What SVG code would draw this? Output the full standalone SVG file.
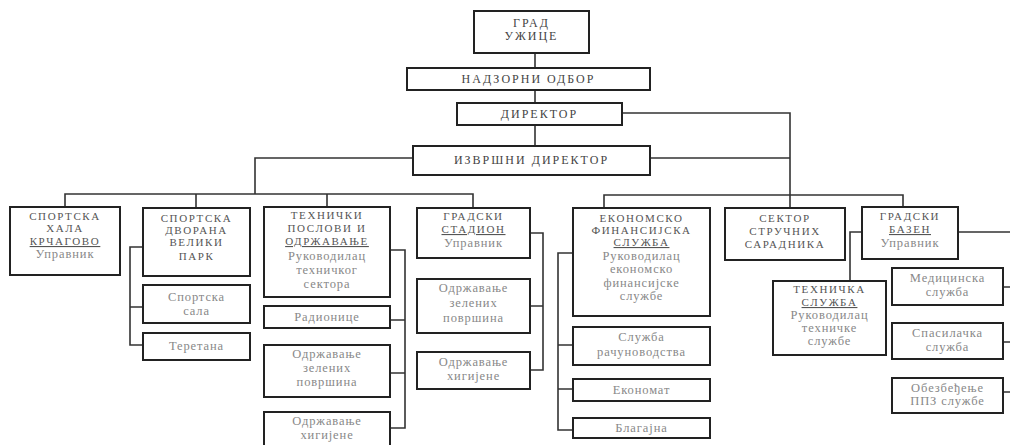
<svg xmlns="http://www.w3.org/2000/svg" width="1010" height="445" viewBox="0 0 1010 445">
<style>
rect{fill:#fff;stroke:#222;stroke-width:2}
text{font-family:"Liberation Serif","Times New Roman",serif;text-anchor:middle}
.h{font-size:12px;letter-spacing:2px;fill:#444}
.t{font-size:11px;letter-spacing:1.6px;fill:#555}
.s{font-size:12.5px;letter-spacing:0.9px;fill:#888}
.u{text-decoration:underline}
#conn path{fill:none;stroke:#333;stroke-width:1.6}
</style>
<rect x="0" y="0" width="1010" height="445" style="fill:#fff;stroke:none"/>
<g id="conn">
<path d="M535,53V68M535,90V103M535,125V146"/>
<path d="M622,113H790V208M650,158H790"/>
<path d="M413,158H255V194M65,207V194H473V208M196,194V208M327,194V207"/>
<path d="M604,208V195H903V207"/>
<path d="M143,247H130V345H143M130,307H143"/>
<path d="M390,250H405V428H390M390,320H405M390,373H405"/>
<path d="M530,233H543V370H530M530,306H543"/>
<path d="M573,253H558V430H573M558,345H573M558,389H573"/>
<path d="M958,232H1010M862,232H850V281"/>
<path d="M1003,287H1010M1003,342H1010M1003,392H1010"/>
</g>
<g id="grad"><rect x="474" y="11" width="115" height="42"/><text class="h" x="531.5" y="27">ГРАД</text><text class="h" x="531.5" y="40">УЖИЦЕ</text></g>
<g id="nadzorni"><rect x="407" y="68" width="243" height="22"/><text class="h" x="528.5" y="83">НАДЗОРНИ ОДБОР</text></g>
<g id="direktor"><rect x="457" y="103" width="165" height="22"/><text class="h" x="539.5" y="118">ДИРЕКТОР</text></g>
<g id="izvrsni"><rect x="413" y="146" width="237" height="29"/><text class="h" x="531.5" y="164">ИЗВРШНИ ДИРЕКТОР</text></g>

<g id="hala"><rect x="10" y="207" width="110" height="68"/>
<text class="t" x="65" y="220">СПОРТСКА</text><text class="t" x="65" y="232">ХАЛА</text><text class="t u" x="65" y="245">КРЧАГОВО</text><text class="s" x="65" y="258">Управник</text></g>

<g id="dvorana"><rect x="143" y="208" width="107" height="68"/>
<text class="t" x="196.5" y="222">СПОРТСКА</text><text class="t" x="196.5" y="234">ДВОРАНА</text><text class="t" x="196.5" y="246">ВЕЛИКИ</text><text class="t" x="196.5" y="260">ПАРК</text></g>
<g id="sala"><rect x="143" y="285" width="107" height="38"/><text class="s" x="196.5" y="301">Спортска</text><text class="s" x="196.5" y="315">сала</text></g>
<g id="teretana"><rect x="143" y="333" width="107" height="27"/><text class="s" x="196.5" y="350">Теретана</text></g>

<g id="tehnicki"><rect x="264" y="207" width="126" height="90"/>
<text class="t" x="327" y="219">ТЕХНИЧКИ</text><text class="t" x="327" y="232">ПОСЛОВИ И</text><text class="t u" x="327" y="245">ОДРЖАВАЊЕ</text><text class="s" x="327" y="260">Руководилац</text><text class="s" x="327" y="274">техничког</text><text class="s" x="327" y="288">сектора</text></g>
<g id="radionice"><rect x="264" y="306" width="126" height="22"/><text class="s" x="327" y="321">Радионице</text></g>
<g id="zelene1"><rect x="264" y="345" width="126" height="52"/><text class="s" x="327" y="358">Одржавање</text><text class="s" x="327" y="372">зелених</text><text class="s" x="327" y="386">површина</text></g>
<g id="higijena1"><rect x="264" y="412" width="126" height="38"/><text class="s" x="327" y="425">Одржавање</text><text class="s" x="327" y="439">хигијене</text></g>

<g id="stadion"><rect x="417" y="208" width="113" height="50"/>
<text class="t" x="473.5" y="220">ГРАДСКИ</text><text class="t u" x="473.5" y="233">СТАДИОН</text><text class="s" x="473.5" y="247">Управник</text></g>
<g id="zelene2"><rect x="417" y="279" width="113" height="54"/><text class="s" x="473.5" y="292">Одржавање</text><text class="s" x="473.5" y="307">зелених</text><text class="s" x="473.5" y="322">површина</text></g>
<g id="higijena2"><rect x="417" y="352" width="113" height="37"/><text class="s" x="473.5" y="366">Одржавање</text><text class="s" x="473.5" y="380">хигијене</text></g>

<g id="ekonomsko"><rect x="573" y="208" width="137" height="108"/>
<text class="t" x="641.5" y="222">ЕКОНОМСКО</text><text class="t" x="641.5" y="234">ФИНАНСИЈСКА</text><text class="t u" x="641.5" y="246">СЛУЖБА</text><text class="s" x="641.5" y="260">Руководилац</text><text class="s" x="641.5" y="273">економско</text><text class="s" x="641.5" y="287">финансијске</text><text class="s" x="641.5" y="300">службе</text></g>
<g id="racunovodstvo"><rect x="573" y="327" width="137" height="38"/><text class="s" x="641.5" y="341">Служба</text><text class="s" x="641.5" y="356">рачуноводства</text></g>
<g id="ekonomat"><rect x="573" y="379" width="137" height="22"/><text class="s" x="641.5" y="394">Економат</text></g>
<g id="blagajna"><rect x="573" y="418" width="137" height="20"/><text class="s" x="641.5" y="432">Благајна</text></g>

<g id="sektor"><rect x="725" y="208" width="120" height="52"/>
<text class="t" x="785" y="222">СЕКТОР</text><text class="t" x="785" y="235">СТРУЧНИХ</text><text class="t" x="785" y="248">САРАДНИКА</text></g>

<g id="bazen"><rect x="862" y="207" width="96" height="52"/>
<text class="t" x="910" y="220">ГРАДСКИ</text><text class="t u" x="910" y="233">БАЗЕН</text><text class="s" x="910" y="247">Управник</text></g>
<g id="tehnicka"><rect x="773" y="281" width="113" height="74"/>
<text class="t" x="829.5" y="293">ТЕХНИЧКА</text><text class="t u" x="829.5" y="306">СЛУЖБА</text><text class="s" x="829.5" y="319">Руководилац</text><text class="s" x="829.5" y="332">техничке</text><text class="s" x="829.5" y="345">службе</text></g>
<g id="medicinska"><rect x="892" y="268" width="111" height="37"/><text class="s" x="947.5" y="282">Медицинска</text><text class="s" x="947.5" y="296">служба</text></g>
<g id="spasilacka"><rect x="892" y="323" width="111" height="36"/><text class="s" x="947.5" y="337">Спасилачка</text><text class="s" x="947.5" y="351">служба</text></g>
<g id="ppz"><rect x="892" y="378" width="111" height="35"/><text class="s" x="947.5" y="392">Обезбеђење</text><text class="s" x="947.5" y="405">ППЗ службе</text></g>
</svg>
